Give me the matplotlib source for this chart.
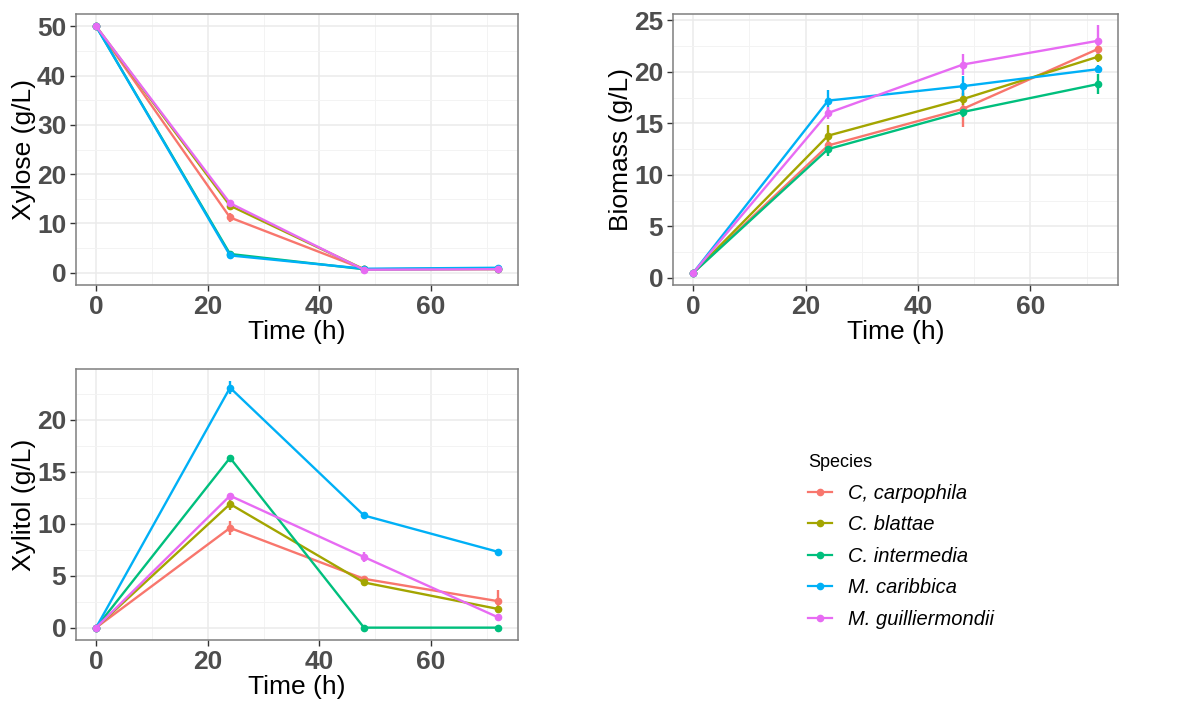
import numpy as np
import matplotlib
matplotlib.use('Agg')
import matplotlib.pyplot as plt
from matplotlib.ticker import MultipleLocator

plt.rcParams['font.family'] = ['Liberation Sans', 'DejaVu Sans']

time_h = [0, 24, 48, 72]
species = ['C, carpophila', 'C. blattae', 'C. intermedia', 'M. caribbica', 'M. guilliermondii']
colors = ['#F8766D', '#A3A500', '#00BF7D', '#00B0F6', '#E76BF3']

# xylose (g/L)
xylose_carp = [50, 11.2, 0.7, 0.8]
xylose_blat = [50, 13.6, 0.7, 0.7]
xylose_inter = [50, 3.8, 0.7, 0.8]
xylose_carib = [50, 3.5, 0.8, 1.0]
xylose_guil = [50, 14.1, 0.6, 0.7]
xylose_err_carp = [0, 1.0, 0.2, 0.2]
xylose_err_blat = [0, 0.5, 0.2, 0.2]
xylose_err_inter = [0, 0.3, 0.2, 0.2]
xylose_err_carib = [0, 0.4, 0.3, 0.3]
xylose_err_guil = [0, 0.5, 0.2, 0.2]

# biomass (g/L)
biomass_carp = [0.5, 12.85, 16.4, 22.2]
biomass_blat = [0.5, 13.8, 17.35, 21.45]
biomass_inter = [0.5, 12.5, 16.1, 18.8]
biomass_carib = [0.5, 17.2, 18.6, 20.25]
biomass_guil = [0.5, 16.0, 20.7, 23.0]
biomass_err_carp = [0.1, 0.8, 1.8, 0.6]
biomass_err_blat = [0.1, 1.0, 0.6, 0.5]
biomass_err_inter = [0.1, 0.7, 0.5, 1.0]
biomass_err_carib = [0.1, 1.0, 1.0, 0.4]
biomass_err_guil = [0.1, 0.6, 1.0, 1.5]

# xylitol (g/L)
xylitol_carp = [0, 9.6, 4.7, 2.55]
xylitol_blat = [0, 11.9, 4.35, 1.8]
xylitol_inter = [0, 16.35, 0, 0]
xylitol_carib = [0, 23.1, 10.8, 7.3]
xylitol_guil = [0, 12.7, 6.8, 1.0]
xylitol_err_carp = [0, 0.7, 0.3, 1.1]
xylitol_err_blat = [0, 0.6, 0.3, 0.3]
xylitol_err_inter = [0, 0.3, 0, 0]
xylitol_err_carib = [0, 0.6, 0.3, 0.3]
xylitol_err_guil = [0, 0.3, 0.5, 0.3]

W, H = 1196, 706
fig = plt.figure(figsize=(W / 100, H / 100), dpi=100)


def px_axes(x0, y0, x1, y1):
    return fig.add_axes([x0 / W, 1 - y1 / H, (x1 - x0) / W, (y1 - y0) / H])


def draw_panel(ax, vals, errs, ylabel, ylim, ymajor):
    for v, e, c in zip(vals, errs, colors):
        ax.errorbar(time_h, v, yerr=e, color=c, lw=1.7, marker='o', ms=4.5,
                    elinewidth=1.7, capsize=0, zorder=3)
    ax.set_xlim(-3.6, 75.6)
    ax.set_ylim(*ylim)
    ax.xaxis.set_major_locator(MultipleLocator(20))
    ax.xaxis.set_minor_locator(MultipleLocator(10))
    ax.yaxis.set_major_locator(MultipleLocator(ymajor))
    ax.yaxis.set_minor_locator(MultipleLocator(ymajor / 2))
    ax.grid(which='major', color='#EBEBEB', lw=1.1)
    ax.grid(which='minor', color='#F3F3F3', lw=0.7)
    ax.set_axisbelow(True)
    for s in ax.spines.values():
        s.set_color('#7F7F7F')
        s.set_linewidth(1.1)
    ax.tick_params(which='major', length=4, color='#333333', width=1.0,
                   labelsize=19, labelcolor='#4D4D4D', pad=3)
    ax.tick_params(which='minor', length=0)
    for lab in ax.get_xticklabels() + ax.get_yticklabels():
        lab.set_fontweight('bold')
    ax.set_xlabel('Time (h)', fontsize=19, labelpad=1)
    ax.set_ylabel(ylabel, fontsize=19, labelpad=1)


ax1 = px_axes(76, 14, 518, 285)
draw_panel(ax1,
           [xylose_carp, xylose_blat, xylose_inter, xylose_carib, xylose_guil],
           [xylose_err_carp, xylose_err_blat, xylose_err_inter, xylose_err_carib, xylose_err_guil],
           'Xylose (g/L)', (-2.5, 52.5), 10)

ax2 = px_axes(673, 14, 1118, 285)
draw_panel(ax2,
           [biomass_carp, biomass_blat, biomass_inter, biomass_carib, biomass_guil],
           [biomass_err_carp, biomass_err_blat, biomass_err_inter, biomass_err_carib, biomass_err_guil],
           'Biomass (g/L)', (-0.68, 25.6), 5)

ax3 = px_axes(76, 369, 518, 640)
draw_panel(ax3,
           [xylitol_carp, xylitol_blat, xylitol_inter, xylitol_carib, xylitol_guil],
           [xylitol_err_carp, xylitol_err_blat, xylitol_err_inter, xylitol_err_carib, xylitol_err_guil],
           'Xylitol (g/L)', (-1.19, 24.9), 5)

handles = [plt.Line2D([], [], color=c, lw=1.6, marker='o', ms=4.5) for c in colors]
leg = fig.legend(handles, species, title='Species', loc='upper left',
                 bbox_to_anchor=(790 / W, 1 - 436 / H), frameon=False,
                 fontsize=14.5, title_fontsize=13, handlelength=1.2,
                 labelspacing=0.62, handletextpad=0.8, alignment='left')
for t in leg.get_texts():
    t.set_fontstyle('italic')

fig.savefig('out.png', dpi=100)
